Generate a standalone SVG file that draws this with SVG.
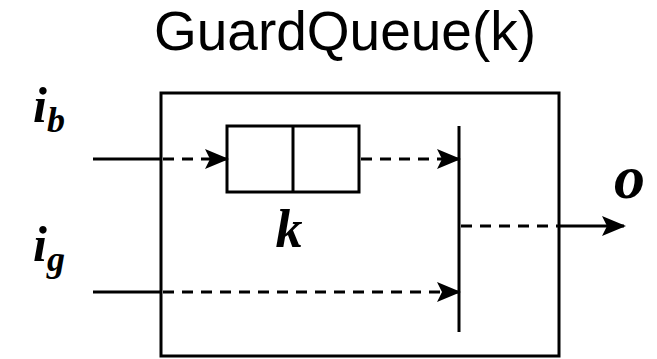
<svg xmlns="http://www.w3.org/2000/svg" width="657" height="359" viewBox="0 0 657 359">
  <style>
    .ln { stroke: #000; stroke-width: 3; fill: none; }
    .dash { stroke: #000; stroke-width: 3; fill: none; stroke-dasharray: 11 8; }
    .box { stroke: #000; stroke-width: 3; fill: #fff; }
    .title { font-family: "Liberation Sans", Arial, sans-serif; font-size: 55px; fill: #000; }
    .math { font-family: "Liberation Serif", "Times New Roman", serif; font-style: italic; font-weight: bold; fill: #000; }
  </style>
  <defs>
    <marker id="head" viewBox="0 0 24 20" refX="22" refY="10" markerWidth="24" markerHeight="20" markerUnits="userSpaceOnUse" orient="auto">
      <path d="M0,0 L24,10 L0,20 L5,10 Z" fill="#000"/>
    </marker>
  </defs>

  <rect width="657" height="359" fill="#fff"/>

  <text class="title" x="345" y="50" text-anchor="middle">GuardQueue(k)</text>

  <g id="block">
    <rect class="box" x="161" y="93" width="398" height="263"/>
  </g>

  <g id="queue">
    <rect class="box" x="227" y="126" width="132" height="66"/>
    <line class="ln" x1="293" y1="126" x2="293" y2="192"/>
    <text class="math" x="289" y="247" font-size="54" text-anchor="middle">k</text>
  </g>

  <g id="guard">
    <line class="ln" x1="459" y1="126" x2="459" y2="332"/>
  </g>

  <g id="labels">
    <text class="math" x="33" y="122" font-size="50">i<tspan font-size="36" dy="10">b</tspan></text>
    <text class="math" x="33" y="261" font-size="50">i<tspan font-size="36" dy="10">g</tspan></text>
    <text class="math" x="614" y="198" font-size="62">o</text>
  </g>

  <g id="connectors">
    <line class="ln" x1="93" y1="159" x2="161" y2="159"/>
    <line class="dash" x1="163" y1="159" x2="227" y2="159" marker-end="url(#head)"/>
    <line class="dash" x1="361" y1="159" x2="459" y2="159" marker-end="url(#head)"/>
    <line class="ln" x1="93" y1="292" x2="161" y2="292"/>
    <line class="dash" x1="163" y1="292" x2="459" y2="292" marker-end="url(#head)"/>
    <line class="dash" x1="461" y1="226" x2="559" y2="226"/>
    <line class="ln" x1="559" y1="226" x2="624" y2="226" marker-end="url(#head)"/>
  </g>
</svg>
